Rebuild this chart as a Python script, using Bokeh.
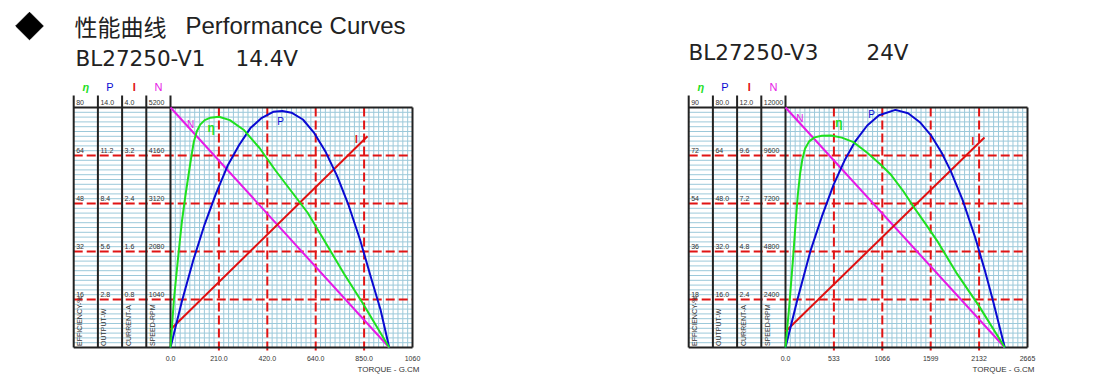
import numpy as np
from bokeh.plotting import figure
from bokeh.layouts import row
from bokeh.models import Range1d
from bokeh.core.properties import value
from bokeh.embed import file_html
from bokeh.resources import INLINE

# ---------------- data ----------------
page_title_cn = "性能曲线"
page_title_en = "Performance Curves"
series_names = ["η", "P", "I", "N"]
column_units = ["EFFICIENCY-%", "OUTPUT-W", "CURRENT-A", "SPEED-RPM"]
torque_label = "TORQUE - G.CM"

# BL27250-V1, 14.4 V
v1_model = "BL27250-V1"
v1_voltage = "14.4V"
v1_torque_max = 1060
v1_torque_ticks = ["0.0", "210.0", "420.0", "640.0", "850.0", "1060"]
v1_eff_ticks = ["80", "64", "48", "32", "16"]
v1_out_ticks = ["14.0", "11.2", "8.4", "5.6", "2.8"]
v1_cur_ticks = ["4.0", "3.2", "2.4", "1.6", "0.8"]
v1_spd_ticks = ["5200", "4160", "3120", "2080", "1040"]
v1_axis_max = [80, 14.0, 4.0, 5200]
v1_speed_torque = [0, 958]
v1_speed = [5200, 0]
v1_current_torque = [0, 863]
v1_current = [0.30, 3.52]
v1_output_torque = [0, 50, 100, 150, 200, 250, 300, 350, 400, 450, 490, 530, 580,
                    630, 680, 730, 780, 830, 880, 920, 958]
v1_output = [0, 2.7, 5.1, 7.2, 9.0, 10.6, 11.8, 12.8, 13.4, 13.75, 13.8, 13.7, 13.3,
             12.5, 11.4, 10.0, 8.3, 6.3, 4.0, 2.2, 0]
v1_eff_torque = [0, 15, 36, 50, 66, 80, 92, 102, 115, 130, 150, 175, 212, 260, 320,
                 390, 460, 530, 600, 671, 760, 840, 958]
v1_eff = [0, 16, 32, 42, 51, 58, 64, 68.5, 72, 74.3, 75.8, 76.6, 76.9, 75.8, 72.6,
          66.5, 59, 52, 45, 36, 24.6, 15, 0]

# BL27250-V3, 24 V
v3_model = "BL27250-V3"
v3_voltage = "24V"
v3_torque_max = 2665
v3_torque_ticks = ["0.0", "533", "1066", "1599", "2132", "2665"]
v3_eff_ticks = ["90", "72", "54", "36", "18"]
v3_out_ticks = ["80.0", "64", "48.0", "32.0", "16.0"]
v3_cur_ticks = ["12.0", "9.6", "7.2", "4.8", "2.4"]
v3_spd_ticks = ["12000", "9600", "7200", "4800", "2400"]
v3_axis_max = [90, 80.0, 12.0, 12000]
v3_speed_torque = [0, 2415]
v3_speed = [12000, 0]
v3_current_torque = [0, 2191]
v3_current = [0.8, 10.5]
v3_output_torque = [0, 130, 275, 400, 530, 650, 770, 900, 1030, 1210, 1350, 1480,
                    1600, 1720, 1820, 1950, 2090, 2200, 2280, 2415]
v3_output = [0, 15.8, 32.2, 43.6, 54.3, 62.3, 68.8, 74.0, 77.4, 79.2, 78.1, 75.1,
             70.8, 64.9, 58.8, 49.2, 36.6, 25.2, 16.2, 0]
v3_eff_torque = [0, 40, 80, 110, 135, 160, 185, 215, 260, 320, 400, 500, 620, 750,
                 900, 1050, 1156, 1300, 1414, 1550, 1670, 1890, 2128, 2415]
v3_eff = [0, 15, 32, 46, 57, 65, 70.5, 74.5, 77.3, 78.8, 79.4, 79.5, 78.7, 77,
          73, 68.5, 65, 58.5, 52.6, 46, 40, 27.6, 15.7, 0]

# ---------------- styling / geometry ----------------
FIG_W, FIG_H = 546, 376
MARGIN = 0
PLOT_W, PLOT_H = 242.0, 240.0
PLOT_TOP = 107 - MARGIN
PLOT_BOTTOM = PLOT_TOP + PLOT_H
FONT = value("Liberation Sans")
C_EFF, C_OUT, C_CUR, C_SPD = "#1ee01e", "#0a0ad2", "#e01010", "#e619e6"
GRID_C = "#9cc9da"
DASH_C = "#e01414"


def build(fig_left, plot_left, tmax, axis_max, tick_cols, torque_ticks, curves,
          curve_labels, model, voltage, model_pos, volt_x, with_title):
    left = plot_left - fig_left
    emax = axis_max[0]
    sx = PLOT_W / tmax
    sy = PLOT_H / emax

    def X(px):
        return (px - fig_left - left) / sx

    def Y(py):
        return (PLOT_BOTTOM - (py - MARGIN)) / sy

    p = figure(width=FIG_W, height=FIG_H, title=None,
               x_range=Range1d(X(fig_left), X(fig_left + FIG_W)),
               y_range=Range1d(Y(MARGIN + FIG_H), Y(MARGIN)),
               output_backend="svg", toolbar_location=None, min_border=0,
               x_axis_location=None, y_axis_location=None)
    p.grid.visible = False
    p.outline_line_color = None
    p.background_fill_color = "white"
    p.border_fill_color = "white"
    for name, m in zip(["P", "I", "N"], axis_max[1:]):
        k = m / emax
        p.extra_y_ranges[name] = Range1d(Y(MARGIN + FIG_H) * k, Y(MARGIN) * k)

    col_w = tmax / 10.0
    col_x = [-4 * col_w + i * col_w for i in range(5)]
    x_left = col_x[0]

    # minor grid
    hy = [emax * k / 50.0 for k in range(1, 50) if k % 10]
    p.segment(x0=[x_left] * len(hy), y0=hy, x1=[tmax] * len(hy), y1=hy,
              line_color=GRID_C, line_width=1)
    vx = [tmax * k / 50.0 for k in range(1, 50) if k % 10]
    p.segment(x0=vx, y0=[0] * len(vx), x1=vx, y1=[emax] * len(vx),
              line_color=GRID_C, line_width=1)

    # major dashed grid
    mx = [tmax * k / 5.0 for k in range(1, 5)]
    p.segment(x0=mx, y0=[-3 / sy] * 4, x1=mx, y1=[emax] * 4,
              line_color=DASH_C, line_width=2, line_dash="9 4")
    my = [emax * k / 5.0 for k in range(1, 5)]
    p.segment(x0=[x_left] * 4, y0=my, x1=[tmax] * 4, y1=my,
              line_color=DASH_C, line_width=2, line_dash="9 4")

    # black frame and column separators
    p.segment(x0=[x_left, x_left, tmax], y0=[emax, 0, 0],
              x1=[tmax, tmax, tmax], y1=[emax, 0, emax],
              line_color="#222222", line_width=2)
    top_col = emax + 12 / sy
    p.segment(x0=col_x, y0=[0] * 5, x1=col_x, y1=[top_col] * 5,
              line_color="#222222", line_width=2)

    # column value labels
    tx, ty, tt = [], [], []
    for i, ticks in enumerate(tick_cols):
        for j, lab in enumerate(ticks):
            tx.append(col_x[i] + 2.5 / sx)
            ty.append(emax * (5 - j) / 5.0 + 5.5 / sy)
            tt.append(lab)
    p.text(x=tx, y=ty, text=tt, text_font=FONT, text_font_size="7px",
           text_color="#333333", text_align="left", text_baseline="middle")

    # column unit labels (rotated)
    p.text(x=[c + 6 / sx for c in col_x[:4]], y=[1.5 / sy] * 4, text=column_units,
           angle=np.pi / 2, text_font=FONT, text_font_size="7px",
           text_color="#333333", text_align="left", text_baseline="middle")

    # column headers
    hdr_colors = [C_EFF, C_OUT, C_CUR, C_SPD]
    hdr_styles = ["bold italic", "normal", "bold", "normal"]
    for i in range(4):
        p.text(x=[col_x[i] + col_w / 2], y=[emax + 20.5 / sy], text=[series_names[i]],
               text_font=FONT, text_font_size="11px", text_color=hdr_colors[i],
               text_font_style=hdr_styles[i], text_align="center",
               text_baseline="middle")

    # torque tick labels
    p.text(x=[tmax * k / 5.0 for k in range(6)], y=[-10.5 / sy] * 6, text=torque_ticks,
           text_font=FONT, text_font_size="7px", text_color="#333333",
           text_align="center", text_baseline="middle")
    p.text(x=[tmax - 24 / sx], y=[-21.5 / sy], text=[torque_label], text_font=FONT,
           text_font_size="8px", text_color="#333333", text_align="center",
           text_baseline="middle")

    # curves
    (et, ev), (ot, ov), (ct, cv), (st, sv) = curves
    p.line(st, sv, y_range_name="N", line_color=C_SPD, line_width=2)
    p.line(ct, cv, y_range_name="I", line_color=C_CUR, line_width=2)
    p.line(ot, ov, y_range_name="P", line_color=C_OUT, line_width=2)
    p.line(et, ev, line_color=C_EFF, line_width=2)

    # curve labels (offsets in px from plot top-left)
    lab_styles = {"η": (C_EFF, "bold", "12px"), "P": (C_OUT, "normal", "10px"),
                  "I": (C_CUR, "bold", "10px"), "N": (C_SPD, "normal", "10px")}
    for name, (dx, dy) in curve_labels.items():
        col, sty, fs = lab_styles[name]
        p.text(x=[dx / sx], y=[emax - dy / sy], text=[name], text_font=FONT,
               text_font_size=fs, text_font_style=sty, text_color=col,
               text_align="center", text_baseline="middle")

    # model / voltage
    mx0, mcy = model_pos
    p.text(x=[X(mx0), X(volt_x)], y=[Y(mcy), Y(mcy)], text=[model, voltage],
           text_font=value("DejaVu Sans"), text_font_size="21.5px", text_color="#222222",
           text_align="left", text_baseline="middle")

    if with_title:
        p.scatter(x=[X(29)], y=[Y(25.5)], marker="square", size=19.5, angle=np.pi / 4,
                  fill_color="black", line_color="black")
        p.text(x=[X(74)], y=[Y(25)], text=[page_title_cn],
               text_font=value("Noto Sans CJK SC"), text_font_size="23px",
               text_color="#222222", text_align="left", text_baseline="middle")
        p.text(x=[X(185)], y=[Y(25)], text=[page_title_en], text_font=FONT,
               text_font_size="24px", text_color="#222222", text_align="left",
               text_baseline="middle")
    return p


p1 = build(0, 170, v1_torque_max, v1_axis_max,
           [v1_eff_ticks, v1_out_ticks, v1_cur_ticks, v1_spd_ticks], v1_torque_ticks,
           [(v1_eff_torque, v1_eff), (v1_output_torque, v1_output),
            (v1_current_torque, v1_current), (v1_speed_torque, v1_speed)],
           {"N": (20, 17.3), "η": (40.7, 20.3), "P": (110, 13.7), "I": (186, 32.3)},
           v1_model, v1_voltage, (75, 58), 235, True)
p2 = build(FIG_W, 785, v3_torque_max, v3_axis_max,
           [v3_eff_ticks, v3_out_ticks, v3_cur_ticks, v3_spd_ticks], v3_torque_ticks,
           [(v3_eff_torque, v3_eff), (v3_output_torque, v3_output),
            (v3_current_torque, v3_current), (v3_speed_torque, v3_speed)],
           {"N": (14.3, 10.7), "η": (53.3, 15.3), "P": (86, 7), "I": (187.3, 33.7)},
           v3_model, v3_voltage, (688, 52), 866, False)

layout = row(p1, p2)
open("out.html", "w").write(file_html(layout, INLINE))
